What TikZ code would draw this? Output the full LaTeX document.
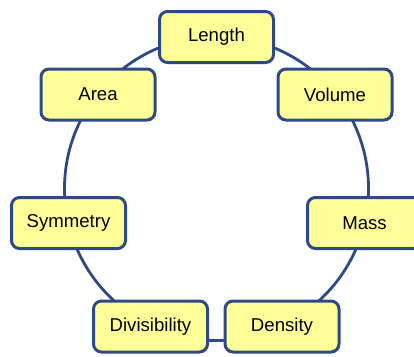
\documentclass[tikz,border=0pt]{standalone}
\usepackage{fontspec}
\setmainfont{Liberation Sans}
\definecolor{ringblue}{HTML}{2D4A87}
\definecolor{boxfill}{HTML}{FFFF99}
\begin{document}
\begin{tikzpicture}[x=1pt,y=-1pt,
  concept/.style={draw=ringblue, line width=3pt, fill=boxfill, rounded corners=8pt,
    minimum width=114pt, minimum height=51pt, inner sep=0pt,
    font=\fontsize{18.6}{20}\selectfont},
  ring/.style={draw=ringblue, line width=2.8pt, circle, minimum size=304pt, inner sep=0pt}]
  \useasboundingbox (0,0) rectangle (414,356);
  % the cycle that links the concepts
  \node[ring] (cycle) at (216.5,188.5) {};
  % concepts placed around the cycle
  \node[concept] (length) at (216.5,37) {Length};
  \node[concept] (area) at (98,94.5) {Area};
  \node[concept] (volume) at (335,94.5) {Volume};
  \node[concept] (symmetry) at (68.5,223) {Symmetry};
  \node[concept] (mass) at (364.5,223) {Mass};
  \node[concept] (divisibility) at (150.5,326.5) {Divisibility};
  \node[concept] (density) at (282,326.5) {Density};
\end{tikzpicture}
\end{document}
